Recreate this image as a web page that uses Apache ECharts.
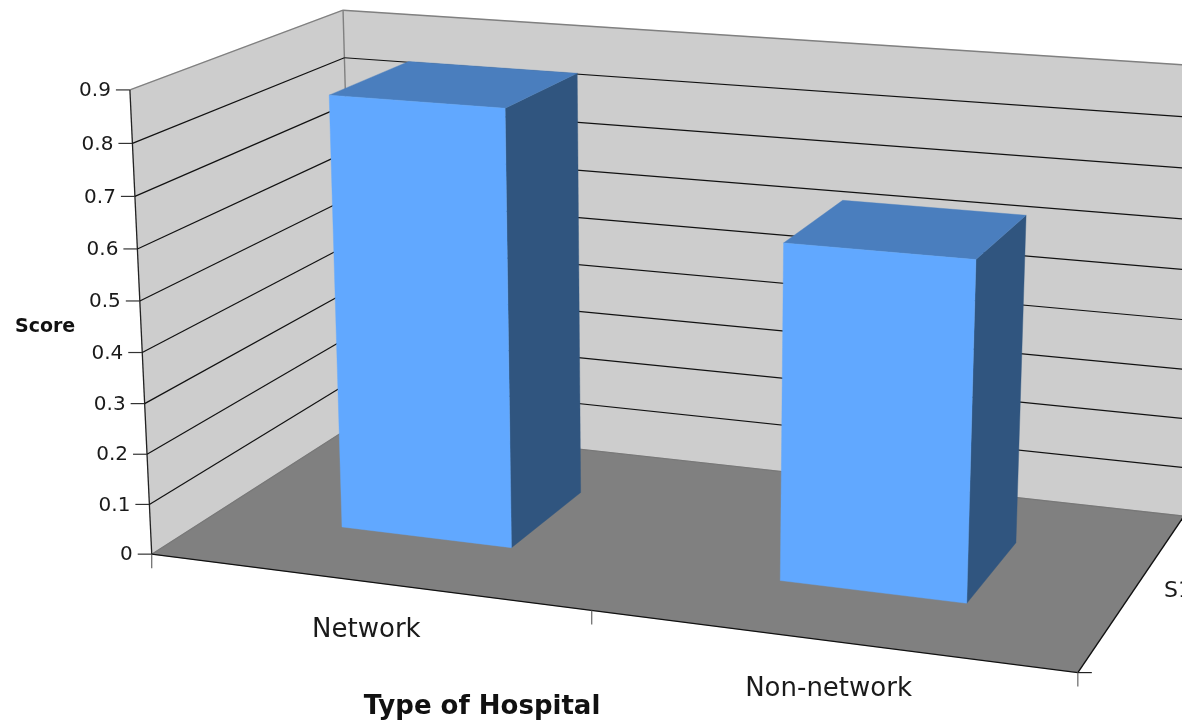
<!DOCTYPE html>
<html><head><meta charset="utf-8">
<style>html,body{margin:0;padding:0;background:#fff}#c{width:1182px;height:722px}</style>
<script src="https://cdn.jsdelivr.net/npm/echarts@6/dist/echarts.min.js"></script></head>
<body><div id="c"></div>
<script>
// Chart data
const categories = ['Network', 'Non-network'];
const scores = [0.858, 0.648];
const yTicks = [0, 0.1, 0.2, 0.3, 0.4, 0.5, 0.6, 0.7, 0.8, 0.9];
const seriesName = 'S1';
const yTitle = 'Score';
const xTitle = 'Type of Hospital';

// Box proportions: bars span about 0.4 of a category and 0.4 of the depth, centred on both.
const BAR_HALF_WIDTH = 0.199;
const BAR_DEPTH = [0.3, 0.7];
const FONT = '"DejaVu Sans", Verdana, sans-serif';

// Camera calibration: box corners (category, value, depth) and where they land on screen.
const view = [
  [0, 0, 0, 152, 555], [0, .9, 0, 130, 90], [0, .5, 0, 140, 300],
  [0, 0, 1, 355, 424], [0, .9, 1, 343, 11], [0, .8, 1, 344, 57],
  [2, 0, 0, 1078, 672], [1, 0, 0, 591, 611], [2, 0, 1, 1184, 516], [2, .9, 1, 1205, 66.5]
];

function solve(A, b) {
  const n = b.length, M = A.map((r, i) => [...r, b[i]]);
  for (let i = 0; i < n; i++) {
    let p = i;
    for (let k = i; k < n; k++) if (Math.abs(M[k][i]) > Math.abs(M[p][i])) p = k;
    [M[i], M[p]] = [M[p], M[i]];
    for (let k = 0; k < n; k++) if (k !== i) {
      const f = M[k][i] / M[i][i];
      for (let j = i; j <= n; j++) M[k][j] -= f * M[i][j];
    }
  }
  return M.map((r, i) => r[n] / r[i]);
}

// Least-squares fit of the 3D-to-2D projective matrix.
function fitProjection() {
  const R = [], Y = [];
  view.forEach(([u, v, w, x, y]) => {
    R.push([1, u, v, w, 0, 0, 0, 0, -x * u, -x * v, -x * w]); Y.push(x);
    R.push([0, 0, 0, 0, 1, u, v, w, -y * u, -y * v, -y * w]); Y.push(y);
  });
  const A = [], B = [];
  for (let i = 0; i < 11; i++) {
    A.push(new Array(11).fill(0)); B.push(0);
    for (let j = 0; j < 11; j++) R.forEach(r => { A[i][j] += r[i] * r[j]; });
    R.forEach((r, k) => { B[i] += r[i] * Y[k]; });
  }
  return solve(A, B);
}
const [a0, a1, a2, a3, b0, b1, b2, b3, c1, c2, c3] = fitProjection();
function project(u, v, w) {
  const d = 1 + c1 * u + c2 * v + c3 * w;
  return [(a0 + a1 * u + a2 * v + a3 * w) / d, (b0 + b1 * u + b2 * v + b3 * w) / d];
}

// The flat grid holds the hidden axes; its scales feed the projection above.
const GRID = { left: 100, top: 100, width: 900, height: 500 };
const VMAX = 0.9, UMAX = categories.length;
function toWorld(api, catIndex, value) {
  const p = api.coord([catIndex, value]);
  return {
    u: (p[0] - GRID.left) / GRID.width * UMAX,
    v: (GRID.top + GRID.height - p[1]) / GRID.height * VMAX
  };
}

const poly = (points, fill) => ({ type: 'polygon', shape: { points }, style: { fill, stroke: fill, lineWidth: 0.4 } });
const line = (p, q, stroke, lineWidth = 1.2) => ({
  type: 'line', shape: { x1: p[0], y1: p[1], x2: q[0], y2: q[1] }, style: { stroke, lineWidth }
});
const label = (x, y, text, fontSize, align, fontWeight = 'normal') => ({
  type: 'text', x, y,
  style: { text, fontFamily: FONT, fontSize, fontWeight, fill: '#1a1a1a', align, verticalAlign: 'middle' }
});

function renderBox(params, api) {
  const top = toWorld(api, 0, VMAX).v;
  const fl = project(0, 0, 0), fr = project(UMAX, 0, 0), bl = project(0, 0, 1), br = project(UMAX, 0, 1);
  const flt = project(0, top, 0), blt = project(0, top, 1), brt = project(UMAX, top, 1);
  const children = [
    poly([flt, blt, bl, fl], '#CDCDCD'),
    poly([blt, brt, br, bl], '#CDCDCD'),
    poly([fl, fr, br, bl], '#808080'),
    line(flt, blt, '#808080', 1.4), line(blt, brt, '#808080', 1.4), line(blt, bl, '#808080', 1.4),
    line(bl, br, '#777777'), line(fl, bl, '#777777'),
    line(fl, fr, '#111111', 1.4), line(fr, br, '#111111', 1.4), line(fl, flt, '#222222', 1.3)
  ];
  // Category separators under the front edge, plus the stub at the far corner.
  for (let i = 0; i <= UMAX; i++) {
    const p = project(i, 0, 0);
    children.push(line(p, [p[0], p[1] + 14], '#666666'));
  }
  children.push(line(fr, [fr[0] + 14, fr[1]], '#222222'));
  return { type: 'group', children };
}

function renderGridline(params, api) {
  const value = api.value(1);
  const v = toWorld(api, 0, value).v;
  const front = project(0, v, 0), back = project(0, v, 1), right = project(UMAX, v, 1);
  const children = [
    line([front[0] - 14, front[1]], front, '#333333'),
    label(front[0] - 19, front[1] + 1, String(value), 20, 'right')
  ];
  if (value > 0 && value < VMAX) {
    children.push(line(front, back, '#111111'), line(back, right, '#111111'));
  }
  return { type: 'group', children };
}

function renderBar(params, api) {
  const idx = api.value(0);
  const { u, v } = toWorld(api, idx, api.value(1));
  const l = u - BAR_HALF_WIDTH, r = u + BAR_HALF_WIDTH;
  const [w0, w1] = BAR_DEPTH;
  return {
    type: 'group',
    children: [
      poly([project(r, 0, w0), project(r, 0, w1), project(r, v, w1), project(r, v, w0)], '#30557F'),
      poly([project(l, v, w0), project(r, v, w0), project(r, v, w1), project(l, v, w1)], '#4A7EBE'),
      poly([project(l, 0, w0), project(r, 0, w0), project(r, v, w0), project(l, v, w0)], '#61A8FF')
    ]
  };
}

function renderCategoryLabel(params, api) {
  const { u } = toWorld(api, api.value(0), 0);
  const p = project(u, 0, 0);
  return label(p[0], p[1] + 49, categories[api.value(0)], 26, 'center');
}

const chart = echarts.init(document.getElementById('c'), null, { renderer: 'canvas' });
chart.setOption({
  animation: false,
  backgroundColor: '#ffffff',
  grid: GRID,
  xAxis: { type: 'category', data: categories, show: false },
  yAxis: { type: 'value', min: 0, max: VMAX, interval: 0.1, show: false },
  graphic: [
    { type: 'text', x: 15, y: 327, z: 10, style: { text: yTitle, fontFamily: FONT, fontSize: 19, fontWeight: 'bold', fill: '#111', verticalAlign: 'middle' } },
    { type: 'text', x: 482, y: 707, z: 10, style: { text: xTitle, fontFamily: FONT, fontSize: 26, fontWeight: 'bold', fill: '#111', align: 'center', verticalAlign: 'middle' } },
    { type: 'text', x: 1164, y: 591, z: 10, style: { text: seriesName, fontFamily: FONT, fontSize: 22, fill: '#1a1a1a', verticalAlign: 'middle' } }
  ],
  series: [
    { type: 'custom', name: 'box', z: 1, silent: true, data: [[0, 0]], renderItem: renderBox },
    { type: 'custom', name: 'gridlines', z: 2, silent: true, data: yTicks.map(t => [0, t]), renderItem: renderGridline },
    { type: 'custom', name: seriesName, z: 3, silent: true, data: scores.map((s, i) => [i, s]), renderItem: renderBar },
    { type: 'custom', name: 'categories', z: 4, silent: true, data: categories.map((c, i) => [i, 0]), renderItem: renderCategoryLabel }
  ]
});
</script></body></html>
